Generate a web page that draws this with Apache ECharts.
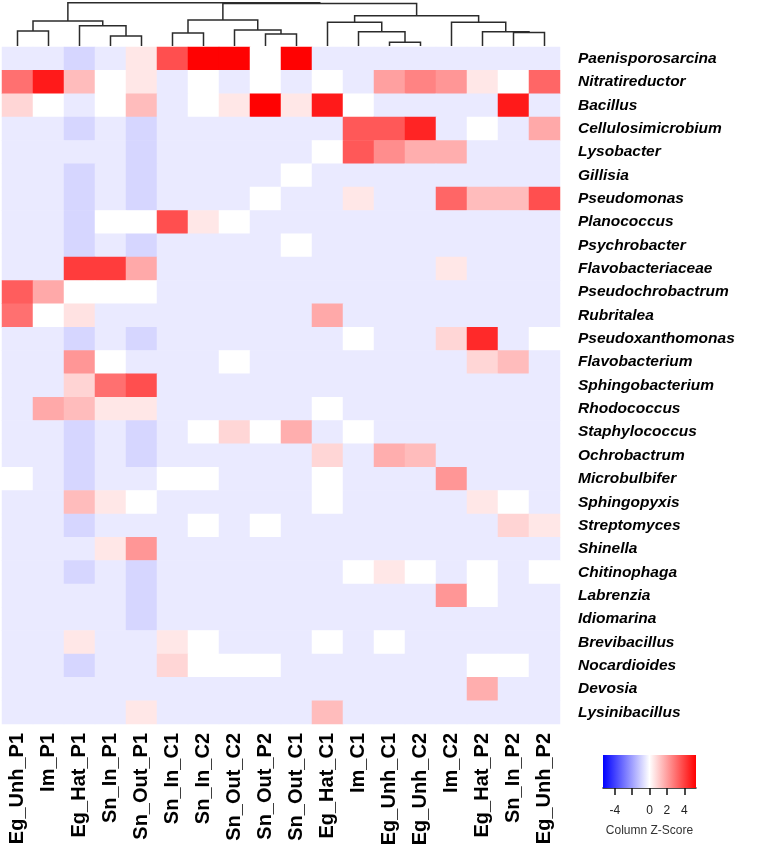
<!DOCTYPE html>
<html>
<head>
<meta charset="utf-8">
<title>Genus heatmap</title>
<script src="https://cdn.jsdelivr.net/npm/echarts@6/dist/echarts.min.js"></script>
<style>
  html, body { margin: 0; padding: 0; background: #fff; }
  #chart { width: 762px; height: 849px; }
</style>
</head>
<body>
<div id="chart"></div>
<script>
// columns in dendrogram order
const samples = [
  "Eg_Unh_P1", "Im_P1", "Eg_Hat_P1", "Sn_In_P1", "Sn_Out_P1", "Sn_In_C1",
  "Sn_In_C2", "Sn_Out_C2", "Sn_Out_P2", "Sn_Out_C1", "Eg_Hat_C1", "Im_C1",
  "Eg_Unh_C1", "Eg_Unh_C2", "Im_C2", "Eg_Hat_P2", "Sn_In_P2", "Eg_Unh_P2"
];

const genera = [
  "Paenisporosarcina", "Nitratireductor", "Bacillus", "Cellulosimicrobium",
  "Lysobacter", "Gillisia", "Pseudomonas", "Planococcus", "Psychrobacter",
  "Flavobacteriaceae", "Pseudochrobactrum", "Rubritalea", "Pseudoxanthomonas",
  "Flavobacterium", "Sphingobacterium", "Rhodococcus", "Staphylococcus",
  "Ochrobactrum", "Microbulbifer", "Sphingopyxis", "Streptomyces", "Shinella",
  "Chitinophaga", "Labrenzia", "Idiomarina", "Brevibacillus", "Nocardioides",
  "Devosia", "Lysinibacillus"
];

// column z-scores, one row per genus (same order as genera / samples)
const zScores = [
  [-0.45, -0.45, -0.85, -0.45, 0.5, 3.7, 5.3, 5.3, 0, 5.3, -0.45, -0.45, -0.45, -0.45, -0.45, -0.45, -0.45, -0.45],
  [3.0, 4.8, 1.4, 0, 0.5, -0.45, 0, -0.45, 0, -0.45, 0, -0.45, 2.0, 2.6, 2.2, 0.5, 0, 3.2],
  [0.85, 0, -0.45, 0, 1.4, -0.45, 0, 0.5, 5.3, 0.5, 4.8, 0, -0.45, -0.45, -0.45, -0.45, 4.8, -0.45],
  [-0.45, -0.45, -0.85, -0.45, -0.85, -0.45, -0.45, -0.45, -0.45, -0.45, -0.45, 3.5, 3.5, 4.6, -0.45, 0, -0.45, 1.8],
  [-0.45, -0.45, -0.45, -0.45, -0.85, -0.45, -0.45, -0.45, -0.45, -0.45, 0, 3.5, 2.4, 1.7, 1.7, -0.45, -0.45, -0.45],
  [-0.45, -0.45, -0.85, -0.45, -0.85, -0.45, -0.45, -0.45, -0.45, 0, -0.45, -0.45, -0.45, -0.45, -0.45, -0.45, -0.45, -0.45],
  [-0.45, -0.45, -0.85, -0.45, -0.85, -0.45, -0.45, -0.45, 0, -0.45, -0.45, 0.5, -0.45, -0.45, 3.2, 1.4, 1.4, 3.7],
  [-0.45, -0.45, -0.85, 0, 0, 3.7, 0.5, 0, -0.45, -0.45, -0.45, -0.45, -0.45, -0.45, -0.45, -0.45, -0.45, -0.45],
  [-0.45, -0.45, -0.85, -0.45, -0.85, -0.45, -0.45, -0.45, -0.45, 0, -0.45, -0.45, -0.45, -0.45, -0.45, -0.45, -0.45, -0.45],
  [-0.45, -0.45, 4.1, 4.1, 1.8, -0.45, -0.45, -0.45, -0.45, -0.45, -0.45, -0.45, -0.45, -0.45, 0.5, -0.45, -0.45, -0.45],
  [3.4, 1.8, 0, 0, 0, -0.45, -0.45, -0.45, -0.45, -0.45, -0.45, -0.45, -0.45, -0.45, -0.45, -0.45, -0.45, -0.45],
  [3.0, 0, 0.6, -0.45, -0.45, -0.45, -0.45, -0.45, -0.45, -0.45, 1.8, -0.45, -0.45, -0.45, -0.45, -0.45, -0.45, -0.45],
  [-0.45, -0.45, -0.85, -0.45, -0.85, -0.45, -0.45, -0.45, -0.45, -0.45, -0.45, 0, -0.45, -0.45, 0.85, 4.5, -0.45, 0],
  [-0.45, -0.45, 2.2, 0, -0.45, -0.45, -0.45, 0, -0.45, -0.45, -0.45, -0.45, -0.45, -0.45, -0.45, 0.85, 1.4, -0.45],
  [-0.45, -0.45, 0.9, 3.0, 3.7, -0.45, -0.45, -0.45, -0.45, -0.45, -0.45, -0.45, -0.45, -0.45, -0.45, -0.45, -0.45, -0.45],
  [-0.45, 1.8, 1.4, 0.5, 0.5, -0.45, -0.45, -0.45, -0.45, -0.45, 0, -0.45, -0.45, -0.45, -0.45, -0.45, -0.45, -0.45],
  [-0.45, -0.45, -0.85, -0.45, -0.85, -0.45, 0, 0.85, 0, 1.7, -0.45, 0, -0.45, -0.45, -0.45, -0.45, -0.45, -0.45],
  [-0.45, -0.45, -0.85, -0.45, -0.85, -0.45, -0.45, -0.45, -0.45, -0.45, 0.85, -0.45, 1.7, 1.4, -0.45, -0.45, -0.45, -0.45],
  [0, -0.45, -0.85, -0.45, -0.45, 0, 0, -0.45, -0.45, -0.45, 0, -0.45, -0.45, -0.45, 2.2, -0.45, -0.45, -0.45],
  [-0.45, -0.45, 1.4, 0.5, 0, -0.45, -0.45, -0.45, -0.45, -0.45, 0, -0.45, -0.45, -0.45, -0.45, 0.5, 0, -0.45],
  [-0.45, -0.45, -0.85, -0.45, -0.45, -0.45, 0, -0.45, 0, -0.45, -0.45, -0.45, -0.45, -0.45, -0.45, -0.45, 0.9, 0.5],
  [-0.45, -0.45, -0.45, 0.5, 2.2, -0.45, -0.45, -0.45, -0.45, -0.45, -0.45, -0.45, -0.45, -0.45, -0.45, -0.45, -0.45, -0.45],
  [-0.45, -0.45, -0.85, -0.45, -0.85, -0.45, -0.45, -0.45, -0.45, -0.45, -0.45, 0, 0.5, 0, -0.45, 0, -0.45, 0],
  [-0.45, -0.45, -0.45, -0.45, -0.85, -0.45, -0.45, -0.45, -0.45, -0.45, -0.45, -0.45, -0.45, -0.45, 2.2, 0, -0.45, -0.45],
  [-0.45, -0.45, -0.45, -0.45, -0.85, -0.45, -0.45, -0.45, -0.45, -0.45, -0.45, -0.45, -0.45, -0.45, -0.45, -0.45, -0.45, -0.45],
  [-0.45, -0.45, 0.5, -0.45, -0.45, 0.5, 0, -0.45, -0.45, -0.45, 0, -0.45, 0, -0.45, -0.45, -0.45, -0.45, -0.45],
  [-0.45, -0.45, -0.85, -0.45, -0.45, 0.85, 0, 0, 0, -0.45, -0.45, -0.45, -0.45, -0.45, -0.45, 0, 0, -0.45],
  [-0.45, -0.45, -0.45, -0.45, -0.45, -0.45, -0.45, -0.45, -0.45, -0.45, -0.45, -0.45, -0.45, -0.45, -0.45, 1.7, -0.45, -0.45],
  [-0.45, -0.45, -0.45, -0.45, 0.5, -0.45, -0.45, -0.45, -0.45, -0.45, 1.4, -0.45, -0.45, -0.45, -0.45, -0.45, -0.45, -0.45]
];

// column dendrogram, hclust style: negative = leaf (1-based), positive = earlier merge
const mergeLeft = [-1, -4, -3, 1, -6, -9, -8, 5, -13, -12, -11, -17, -16, -15, 11, 8, 4];
const mergeRight = [-2, -5, 2, 3, -7, -10, 6, 7, -14, 9, 10, -18, 12, 13, 14, 15, 16];
const mergeHeight = [15, 10, 20.3, 25, 13, 12, 16, 26, 3.7, 14.3, 23.7, 13.5, 14.3, 23.7, 30.3, 42.5, 43.3];

// colour key
const zRange = [-5.35, 5.35];
const keyTicks = [-4, -2, 0, 2, 4];
const keyLabels = [-4, 0, 2, 4];

const heatData = [];
zScores.forEach((row, r) => {
  row.forEach((v, c) => heatData.push([c, r, v]));
});

const nodeX = [];
const nodeH = [];
function nodePos(id) {
  return id < 0 ? [-id - 1, 0] : [nodeX[id - 1], nodeH[id - 1]];
}
const dendroData = [];
mergeLeft.forEach((a, i) => {
  const pa = nodePos(a);
  const pb = nodePos(mergeRight[i]);
  const h = mergeHeight[i];
  dendroData.push([pa[0], pa[1], pb[0], pb[1], h]);
  nodeX.push((pa[0] + pb[0]) / 2);
  nodeH.push(h);
});

const myChart = echarts.init(document.getElementById("chart"));
myChart.setOption({
  animation: false,
  textStyle: { fontFamily: "Liberation Sans, Arial, sans-serif" },
  grid: [
    { left: 2, top: 47, width: 558, height: 677 },
    { left: 2, top: 2, width: 558, height: 44 },
    { left: 603, top: 755, width: 93, height: 33 }
  ],
  xAxis: [
    {
      type: "category",
      gridIndex: 0,
      data: samples,
      axisLine: { show: false },
      axisTick: { show: false },
      splitLine: { show: false },
      axisLabel: {
        rotate: 90,
        interval: 0,
        margin: 9,
        fontSize: 20,
        fontWeight: "bold",
        color: "#000"
      }
    },
    { type: "value", gridIndex: 1, min: -0.5, max: 17.5, show: false },
    {
      type: "value",
      gridIndex: 2,
      min: zRange[0],
      max: zRange[1],
      splitLine: { show: false },
      axisLine: { lineStyle: { color: "#111", width: 1.5 } },
      axisTick: {
        customValues: keyTicks,
        length: 7,
        lineStyle: { color: "#111", width: 1.5 }
      },
      axisLabel: {
        customValues: keyLabels,
        margin: 17,
        fontSize: 12,
        color: "#222"
      },
      name: "Column Z-Score",
      nameLocation: "middle",
      nameGap: 37,
      nameTextStyle: { fontSize: 12, color: "#333" }
    }
  ],
  yAxis: [
    {
      type: "category",
      gridIndex: 0,
      data: genera,
      inverse: true,
      position: "right",
      axisLine: { show: false },
      axisTick: { show: false },
      splitLine: { show: false },
      axisLabel: {
        interval: 0,
        margin: 18,
        fontSize: 15.5,
        fontStyle: "italic",
        fontWeight: "bold",
        color: "#000"
      }
    },
    { type: "value", gridIndex: 1, min: 0, max: 44, show: false },
    { type: "value", gridIndex: 2, min: 0, max: 1, show: false }
  ],
  visualMap: {
    show: false,
    type: "continuous",
    seriesIndex: 0,
    dimension: 2,
    min: zRange[0],
    max: zRange[1],
    inRange: { color: ["#0000ff", "#ffffff", "#ff0000"] }
  },
  series: [
    {
      type: "heatmap",
      xAxisIndex: 0,
      yAxisIndex: 0,
      data: heatData,
      emphasis: { disabled: true },
      itemStyle: { borderWidth: 0 }
    },
    {
      type: "custom",
      xAxisIndex: 1,
      yAxisIndex: 1,
      silent: true,
      data: dendroData,
      encode: { x: [0, 2], y: [1, 3, 4] },
      renderItem: function (params, api) {
        const p1 = api.coord([api.value(0), api.value(1)]);
        const p2 = api.coord([api.value(0), api.value(4)]);
        const p3 = api.coord([api.value(2), api.value(4)]);
        const p4 = api.coord([api.value(2), api.value(3)]);
        return {
          type: "polyline",
          shape: { points: [p1, p2, p3, p4] },
          style: { stroke: "#2b2b2b", lineWidth: 1.5, fill: null }
        };
      }
    },
    {
      type: "custom",
      xAxisIndex: 2,
      yAxisIndex: 2,
      silent: true,
      data: [[zRange[0], zRange[1]]],
      encode: { x: [0, 1] },
      renderItem: function (params, api) {
        const p0 = api.coord([api.value(0), 1]);
        const p1 = api.coord([api.value(1), 0]);
        return {
          type: "rect",
          shape: { x: p0[0], y: p0[1], width: p1[0] - p0[0], height: p1[1] - p0[1] },
          style: {
            fill: {
              type: "linear",
              x: 0, y: 0, x2: 1, y2: 0,
              colorStops: [
                { offset: 0, color: "#0000ff" },
                { offset: 0.5, color: "#ffffff" },
                { offset: 1, color: "#ff0000" }
              ]
            }
          }
        };
      }
    }
  ]
});
</script>
</body>
</html>
